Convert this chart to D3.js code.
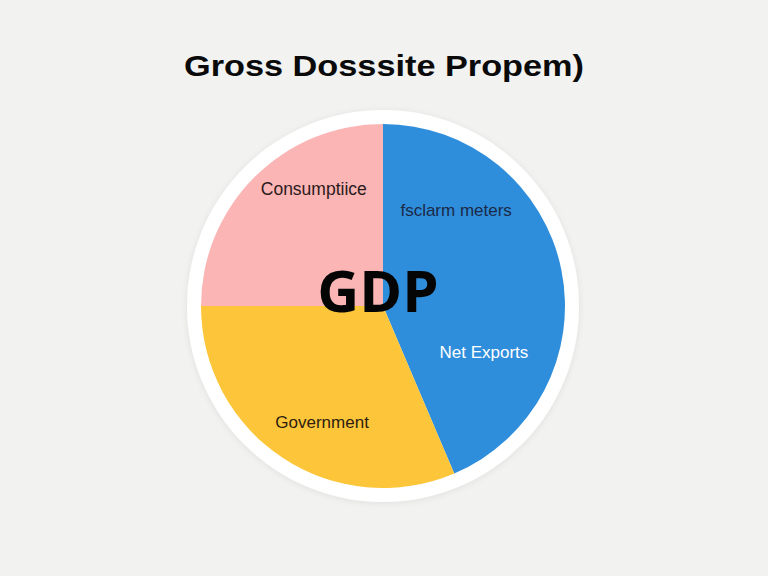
<!DOCTYPE html>
<html><head><meta charset="utf-8">
<script src="https://cdn.jsdelivr.net/npm/d3@7"></script>
<style>html,body{margin:0;padding:0;background:#f2f2f1;}svg{display:block;}</style>
</head><body>
<svg id="chart" width="768" height="576"></svg>
<script>
// Data
const titleText = "Gross Dosssite Propem)";
const centerText = "GDP";
const categories = ["Net Exports", "Government", "Consumptiice"];
const values = [43.6, 31.4, 25.0];
const colors = ["#2f8edb", "#fdc63a", "#fbb5b4"];
// Labels drawn inside slices, and the slice each belongs to
const labelTexts = ["Consumptiice", "fsclarm meters", "Net Exports", "Government"];
const labelSlice = [2, 0, 0, 1];

// Layout
const W = 768, H = 576;
const cx = 383, cy = 306, R = 182, ringR = 196;
const labelLayout = [
  {frac: 0.66, r: 136, fill: "#2b1a1c", size: 17.5},
  {frac: 0.237, r: 121, fill: "#1b2a48", size: 17},
  {frac: 0.73, r: 111, fill: "#ffffff", size: 17},
  {frac: 0.449, r: 131, fill: "#2d1d10", size: 17}
];

const svg = d3.select("#chart");
svg.append("rect").attr("width", W).attr("height", H).attr("fill", "#f2f2f1");

const defs = svg.append("defs");
const f = defs.append("filter").attr("id", "sh").attr("x", "-20%").attr("y", "-20%").attr("width", "140%").attr("height", "140%");
f.append("feDropShadow").attr("dx", 0).attr("dy", 1).attr("stdDeviation", 3).attr("flood-color", "#000").attr("flood-opacity", 0.08);

svg.append("text")
  .attr("x", 384).attr("y", 76)
  .attr("text-anchor", "middle")
  .attr("font-family", "'Liberation Sans', Arial, sans-serif")
  .attr("font-weight", "bold")
  .attr("font-size", 30)
  .attr("textLength", 400)
  .attr("lengthAdjust", "spacingAndGlyphs")
  .attr("fill", "#0a0a0a")
  .text(titleText);

const g = svg.append("g").attr("transform", `translate(${cx},${cy})`);
g.append("circle").attr("r", ringR).attr("fill", "#ffffff").attr("filter", "url(#sh)");

const pie = d3.pie().sort(null).value(d => d)(values);
const arc = d3.arc().innerRadius(0).outerRadius(R);
g.selectAll("path.slice").data(pie).enter().append("path")
  .attr("class", "slice")
  .attr("d", arc)
  .attr("fill", (d, i) => colors[i]);

labelTexts.forEach((t, i) => {
  const s = pie[labelSlice[i]];
  const L = labelLayout[i];
  const a = s.startAngle + (s.endAngle - s.startAngle) * L.frac;
  g.append("text")
    .attr("x", L.r * Math.sin(a))
    .attr("y", -L.r * Math.cos(a))
    .attr("dy", "0.35em")
    .attr("text-anchor", "middle")
    .attr("font-family", "'Liberation Sans', Arial, sans-serif")
    .attr("font-size", L.size)
    .attr("fill", L.fill)
    .text(t);
});

g.append("text")
  .attr("x", -5).attr("y", 6)
  .attr("text-anchor", "middle")
  .attr("font-family", "'Open Sans', 'Noto Sans', sans-serif")
  .attr("font-weight", "bold")
  .attr("font-size", 58)
  .attr("fill", "#050505")
  .text(centerText);
</script>
</body></html>
